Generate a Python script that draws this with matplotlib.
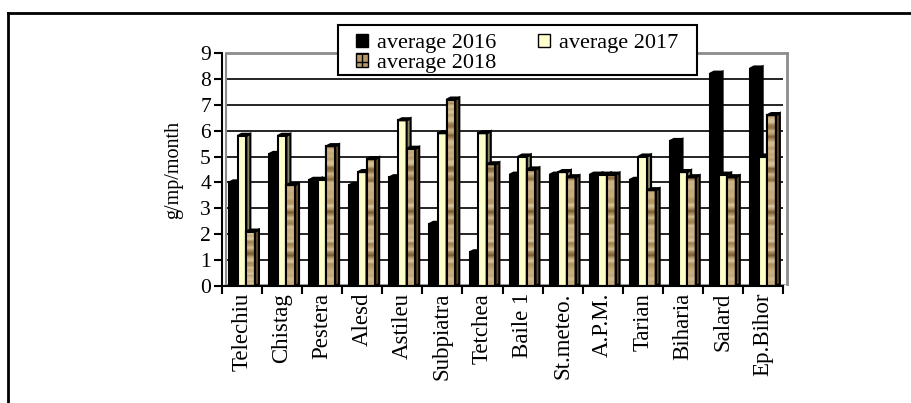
import matplotlib.pyplot as plt
import numpy as np
from matplotlib.patches import Polygon, Rectangle, Patch
from matplotlib.colors import LinearSegmentedColormap
from matplotlib.lines import Line2D

plt.rcParams['font.family'] = ['Liberation Serif', 'DejaVu Serif']

stations = ["Telechiu", "Chistag", "Pestera", "Alesd", "Astileu", "Subpiatra",
            "Tetchea", "Baile 1", "St.meteo.", "A.P.M.", "Tarian", "Biharia",
            "Salard", "Ep.Bihor"]
avg_2016 = [4.0, 5.1, 4.1, 3.9, 4.2, 2.4, 1.3, 4.3, 4.3, 4.3, 4.1, 5.6, 8.2, 8.4]
avg_2017 = [5.8, 5.8, 4.1, 4.4, 6.4, 5.9, 5.9, 5.0, 4.4, 4.3, 5.0, 4.4, 4.3, 5.0]
avg_2018 = [2.1, 3.9, 5.4, 4.9, 5.3, 7.2, 4.7, 4.5, 4.2, 4.3, 3.7, 4.2, 4.2, 6.6]

# depth of the fake 3d look, in data units
DX = 0.1
DY = 0.08
BAR_W = 0.215
LW = 1.5

wood = LinearSegmentedColormap.from_list(
    'wood', ['#5e4422', '#8a6a3e', '#b89a68', '#dcc9a0', '#c2a676'])


def draw_bar(ax, x0, h, face, side, top, z, texture=False):
    x1 = x0 + BAR_W
    front = Rectangle((x0, 0), BAR_W, h, facecolor=face, edgecolor='black',
                      linewidth=LW, zorder=z)
    ax.add_patch(front)
    if texture:
        n = max(int(h * 9), 2)
        r = np.arange(n)
        v = 0.6 + 0.25 * np.sin(r * 1.7) + 0.2 * np.sin(r * 0.45)
        img = ax.imshow(v[:, None], extent=[x0, x1, 0, h], aspect='auto',
                        cmap=wood, vmin=0, vmax=1, origin='lower', zorder=z,
                        interpolation='bilinear')
        img.set_clip_path(front)
        ax.add_patch(Rectangle((x0, 0), BAR_W, h, facecolor='none', edgecolor='black',
                               linewidth=LW, zorder=z + 0.1))
    ax.add_patch(Polygon([(x1, 0), (x1 + DX, DY), (x1 + DX, h + DY), (x1, h)],
                         facecolor=side, edgecolor='black', linewidth=LW, zorder=z))
    ax.add_patch(Polygon([(x0, h), (x0 + DX, h + DY), (x1 + DX, h + DY), (x1, h)],
                         facecolor=top, edgecolor='black', linewidth=LW, zorder=z))


fig = plt.figure(figsize=(9.11, 4.03), dpi=100)
ax = fig.add_axes([0.2437, 0.2903, 0.6158, 0.5782])

n = len(stations)
x = np.arange(n)

# back wall grid and floor
for k in range(1, 10):
    ax.plot([-0.5 + DX, n - 0.5 + DX], [k, k], color='black', linewidth=1.2, zorder=1)
ax.plot([-0.5 + DX, n - 0.5 + DX], [9, 9], color='#8c8c8c', linewidth=2, zorder=1.5,
        clip_on=False)
ax.plot([n - 0.5 + DX, n - 0.5 + DX], [DY, 9], color='#8c8c8c', linewidth=2, zorder=1.5,
        clip_on=False)
ax.plot([-0.5 + DX, -0.5 + DX], [DY, 9], color='#8c8c8c', linewidth=1.5, zorder=1.5)
ax.add_patch(Polygon([(-0.5, 0), (-0.5 + DX, DY), (n - 0.5 + DX, DY), (n - 0.5, 0)],
                     facecolor='#a0a0a0', edgecolor='none', zorder=1.6, clip_on=False))

for i in range(n):
    draw_bar(ax, x[i] - 1.5 * BAR_W, avg_2016[i], 'black', 'black', 'black', 3)
    draw_bar(ax, x[i] - 0.5 * BAR_W, avg_2017[i], '#ffffcc', '#86866a', '#f4f4c0', 4)
    draw_bar(ax, x[i] + 0.5 * BAR_W, avg_2018[i], '#c2a676', '#5e4628', '#d6c094', 5,
             texture=True)

ax.set_xlim(-0.5, n - 0.5)
ax.set_ylim(0, 9)
ax.set_yticks(range(10))
ax.set_xticks(x)
ax.set_xticklabels(stations, rotation=90, fontsize=16.5)
ax.set_xticks(np.arange(-0.5, n), minor=True)
ax.tick_params(axis='x', which='major', length=0, pad=5)
ax.tick_params(axis='x', which='minor', length=6, width=1.5, direction='out')
ax.tick_params(axis='y', length=6, width=1.5, direction='out', labelsize=15.5, pad=2)
for s in ['top', 'right']:
    ax.spines[s].set_visible(False)
ax.spines['left'].set_linewidth(1.5)
ax.spines['bottom'].set_linewidth(1.5)
ax.spines['bottom'].set_zorder(10)
ax.set_ylabel("g/mp/month", fontsize=14.5, labelpad=12)

# legend box drawn by hand, entries placed inside without a frame
ax.add_patch(Rectangle((0.2068, 0.9056), 0.6399, 0.2146, transform=ax.transAxes,
                       facecolor='white', edgecolor='black', linewidth=1.5,
                       clip_on=False, zorder=19))
handles = [Patch(facecolor='black', edgecolor='black', label='average 2016'),
           Patch(facecolor='#b89a68', edgecolor='black', hatch='++', label='average 2018'),
           Patch(facecolor='#ffffcc', edgecolor='black', label='average 2017')]
leg = ax.legend(handles=handles, ncol=2, loc='upper left', bbox_to_anchor=(0.238, 1.082),
                fontsize=16, frameon=False, borderpad=0, labelspacing=0.0,
                handlelength=0.55, handleheight=0.55, handletextpad=0.4,
                columnspacing=1.9, borderaxespad=0)
leg.set_zorder(20)

# outer frame (top and left edges of the picture box)
fig.add_artist(Line2D([8 / 911, 8 / 911], [0, 1 - 13 / 403], color='black', linewidth=2))
fig.add_artist(Line2D([8 / 911, 1], [1 - 13 / 403, 1 - 13 / 403], color='black', linewidth=2))

fig.savefig('out.png', dpi=100)
